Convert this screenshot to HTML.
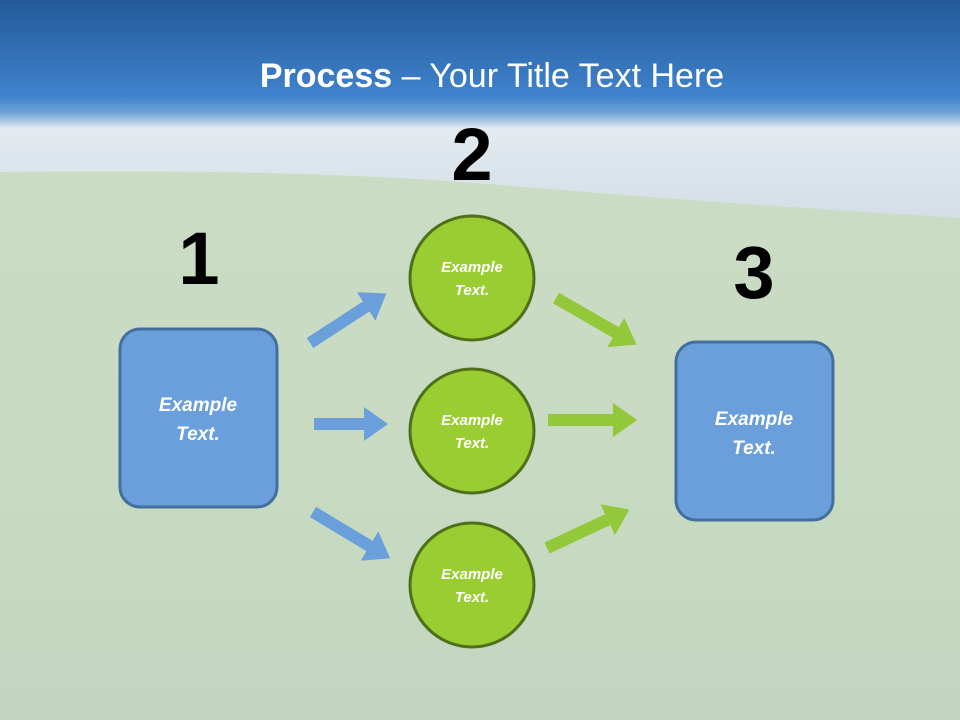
<!DOCTYPE html>
<html><head><style>
body{margin:0;width:960px;height:720px;overflow:hidden;font-family:"Liberation Sans",sans-serif}
</style></head><body>
<svg width="960" height="720" xmlns="http://www.w3.org/2000/svg">
<defs>
<linearGradient id="top" x1="0" y1="0" x2="0" y2="1">
<stop offset="0" stop-color="#245a9a"/><stop offset="0.75" stop-color="#3f82cc"/><stop offset="0.88" stop-color="#6ea2d8"/><stop offset="1" stop-color="#e0e8f0"/>
</linearGradient>
<linearGradient id="sky" x1="0" y1="0" x2="0" y2="1">
<stop offset="0" stop-color="#e6edf2"/><stop offset="1" stop-color="#d2dde6"/>
</linearGradient>
<linearGradient id="field" x1="0" y1="0" x2="0" y2="1">
<stop offset="0" stop-color="#cadcc4"/><stop offset="0.5" stop-color="#c8dbc2"/><stop offset="1" stop-color="#c2d6bf"/>
</linearGradient>
</defs>
<rect width="960" height="720" fill="url(#field)"/>
<rect y="110" width="960" height="115" fill="url(#sky)"/>
<path d="M0,172 Q300,168 500,185 T960,218 L960,720 L0,720 Z" fill="url(#field)"/>
<rect width="960" height="128" fill="url(#top)"/>
<text x="492" y="87" text-anchor="middle" fill="#fff" font-family="Liberation Sans, DejaVu Sans, sans-serif" font-size="34"><tspan font-weight="bold">Process</tspan> – Your Title Text Here</text>

<text x="472" y="180" text-anchor="middle" font-size="74" font-weight="bold" fill="#000">2</text>
<text x="199" y="284" text-anchor="middle" font-size="74" font-weight="bold" fill="#000">1</text>
<text x="754" y="298" text-anchor="middle" font-size="74" font-weight="bold" fill="#000">3</text>

<g fill="#6a9fdc">
<path d="M0,-6 L67,-6 L67,-17 L91,0 L67,17 L67,6 L0,6 Z" transform="translate(310,343) rotate(-33)"/>
<path d="M0,-6 L50,-6 L50,-17 L74,0 L50,17 L50,6 L0,6 Z" transform="translate(314,424)"/>
<path d="M0,-6 L66,-6 L66,-17 L90,0 L66,17 L66,6 L0,6 Z" transform="translate(313,512) rotate(31)"/>
</g>
<g fill="#92c83a">
<path d="M0,-6 L69,-6 L69,-17 L93,0 L69,17 L69,6 L0,6 Z" transform="translate(556,298) rotate(30)"/>
<path d="M0,-6 L65,-6 L65,-17 L89,0 L65,17 L65,6 L0,6 Z" transform="translate(548,420)"/>
<path d="M0,-6 L67,-6 L67,-17 L91,0 L67,17 L67,6 L0,6 Z" transform="translate(547,548) rotate(-25)"/>
</g>

<g fill="#9acd32" stroke="#4f6f1a" stroke-width="3">
<circle cx="472" cy="278" r="62"/>
<circle cx="472" cy="431" r="62"/>
<circle cx="472" cy="585" r="62"/>
</g>
<g fill="#6a9fdc" stroke="#41709f" stroke-width="3">
<rect x="120" y="329" width="157" height="178" rx="20"/>
<rect x="676" y="342" width="157" height="178" rx="20"/>
</g>
<g fill="#fff" font-weight="bold" font-style="italic" text-anchor="middle">
<text x="472" y="272" font-size="15">Example</text><text x="472" y="295" font-size="15">Text.</text>
<text x="472" y="425" font-size="15">Example</text><text x="472" y="448" font-size="15">Text.</text>
<text x="472" y="579" font-size="15">Example</text><text x="472" y="602" font-size="15">Text.</text>
<text x="198" y="411" font-size="19">Example</text><text x="198" y="440" font-size="19">Text.</text>
<text x="754" y="425" font-size="19">Example</text><text x="754" y="454" font-size="19">Text.</text>
</g>
</svg>
</body></html>
